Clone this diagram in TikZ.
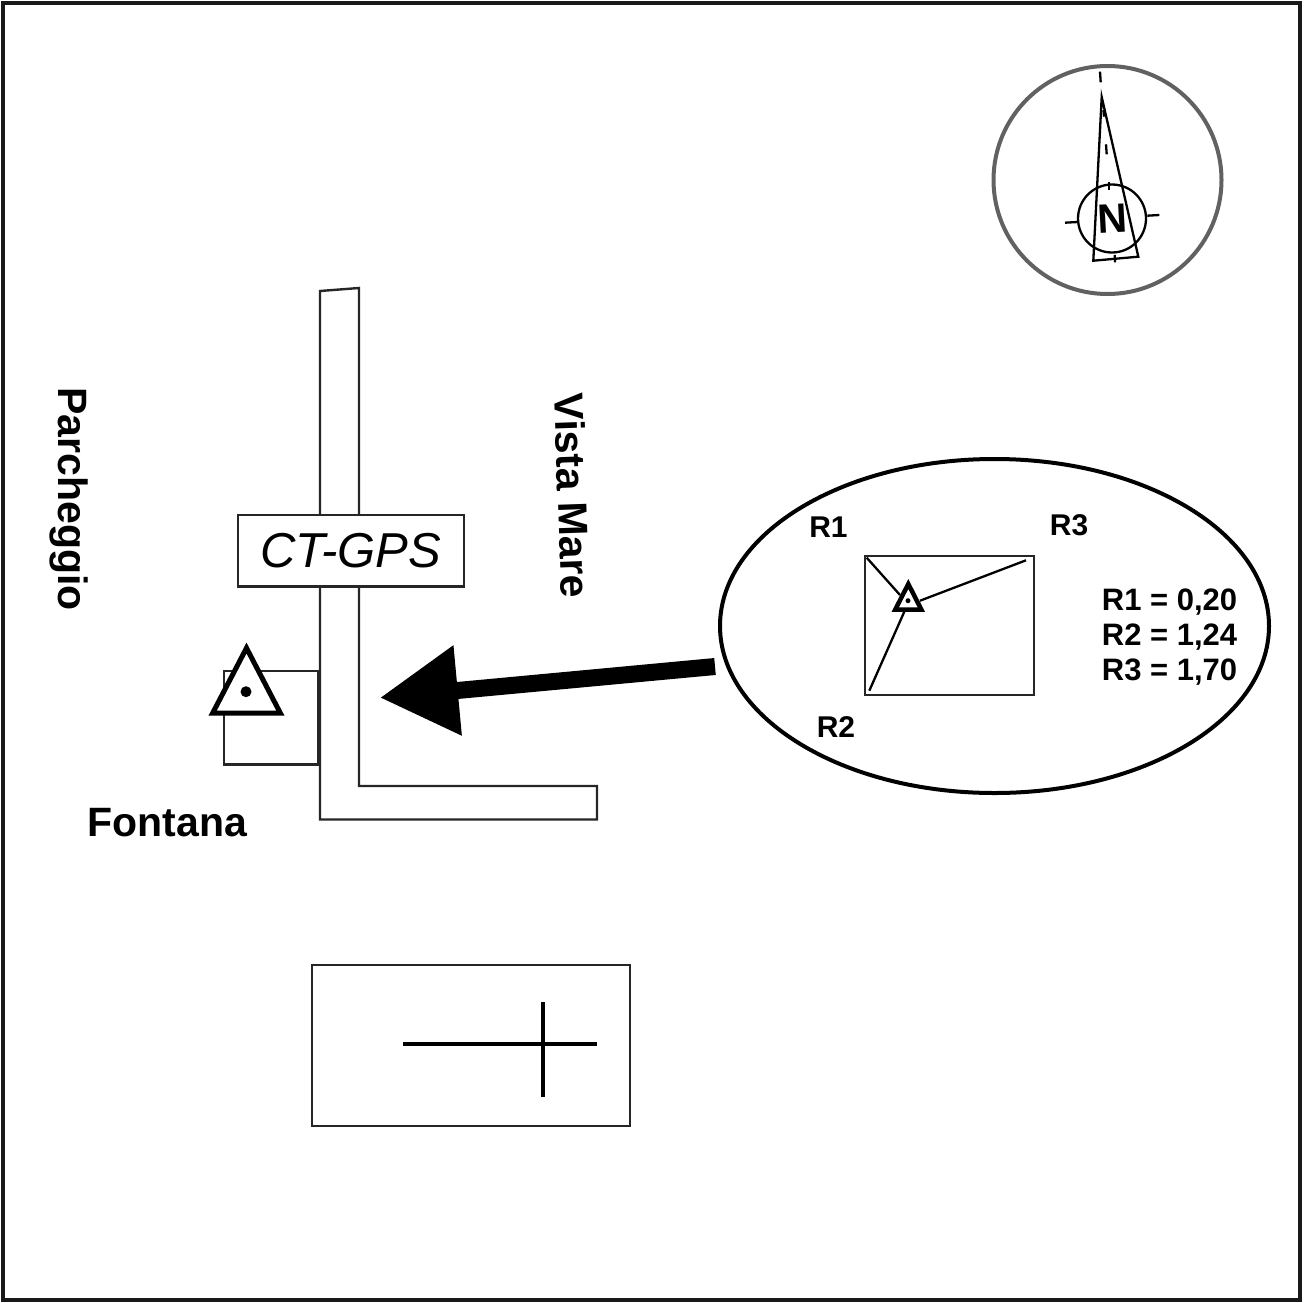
\documentclass[tikz,border=0pt]{standalone}
\usepackage{fontspec}
\setmainfont{Liberation Sans}
\usetikzlibrary{arrows.meta}
\tikzset{
	thinline/.style={draw=black!85,line width=2.4pt},
	markline/.style={draw=black,line width=2.3pt},
	boldlabel/.style={font=\fontsize{41}{41}\selectfont\bfseries,inner sep=0pt},
	smalllabel/.style={font=\fontsize{30}{30}\selectfont\bfseries,inner sep=0pt},
	readout/.style={font=\fontsize{31}{35}\selectfont\bfseries,inner sep=0pt,align=left},
	marker/.style={draw=black,fill=white,miter limit=10},
}
\begin{document}
\begin{tikzpicture}[x=1pt,y=-1pt]
	\useasboundingbox (0,0) rectangle (1303,1303);
	\draw[draw=black!90,line width=4pt] (3,3) rectangle (1300,1300);

	% compass
	\draw[draw=black!62,line width=4pt] (1107.5,180) circle (114);
	\draw[markline] (1112,218.5) circle (34);
	\draw[markline,line join=miter] (1101.7,97) -- (1093.3,260.7) -- (1138.3,256.7) -- cycle;
	\draw[markline] (1100,71.7) -- (1100.7,82.3);
	\draw[markline] (1103.5,110) -- (1104,116.7);
	\draw[markline] (1106,144.3) -- (1106.7,154.3);
	\draw[markline] (1109,182.3) -- (1109,190);
	\draw[markline] (1147.3,215.7) -- (1159.3,215);
	\draw[markline] (1065,222.7) -- (1077.7,222);
	\draw[markline] (1114.7,255) -- (1115,262.3);
	\node[boldlabel,rotate=3] (north) at (1112.3,218.3) {N};

	% road and building
	\draw[thinline] (320,291) -- (359,288) -- (359,786) -- (597,786) -- (597,819.5) -- (320,819.5) -- cycle;
	\draw[thinline] (224,670.7) rectangle (318.3,764.3);
	\node[draw=black!85,line width=2.4pt,fill=white,minimum width=226pt,minimum height=71.5pt,inner sep=0pt,font=\fontsize{49}{49}\selectfont\itshape] (ctgps) at (350.8,550.8) {CT-GPS};
	\draw[marker,line width=5pt] (246.5,648) -- (212.6,713.2) -- (280.4,713.2) -- cycle;
	\fill (246,691.7) circle (5.5);

	\node[boldlabel,rotate=-90] (parcheggio) at (69,499) {Parcheggio};
	\node[boldlabel,rotate=-88] (vistamare) at (572.5,495.5) {Vista Mare};
	\node[boldlabel] (fontana) at (167.5,822.5) {Fontana};

	% inset
	\draw[draw=black,line width=4pt] (994.5,626) ellipse (274.5 and 167);
	\draw[thinline] (865,555.7) rectangle (1033.7,695);
	\draw[markline] (866.7,557.7) -- (900,595);
	\draw[markline] (1026,560.3) -- (920,600.7);
	\draw[markline] (869.3,690.7) -- (904.3,611.7);
	\draw[marker,line width=4.5pt] (908.3,584) -- (895.3,609.5) -- (921.3,609.5) -- cycle;
	\fill (908,600.7) circle (2.5);
	\node[smalllabel] (rone) at (828.5,527) {R1};
	\node[smalllabel] (rtwo) at (836,727.5) {R2};
	\node[smalllabel] (rthree) at (1069,525) {R3};
	\node[readout] (values) at (1169.5,637.5) {R1 = 0,20\\R2 = 1,24\\R3 = 1,70};

	% arrow
	\coordinate (arrowstart) at (715,666.5);
	\coordinate (arrowend) at (380,697.7);
	\draw[line width=17pt,-{Triangle[length=78pt,width=86pt]}] (arrowstart) -- (arrowend);

	% bottom box
	\draw[thinline] (312,965) rectangle (630,1126);
	\draw[draw=black,line width=4pt] (403,1044) -- (597,1044);
	\draw[draw=black,line width=4pt] (543,1002) -- (543,1097);
\end{tikzpicture}
\end{document}
